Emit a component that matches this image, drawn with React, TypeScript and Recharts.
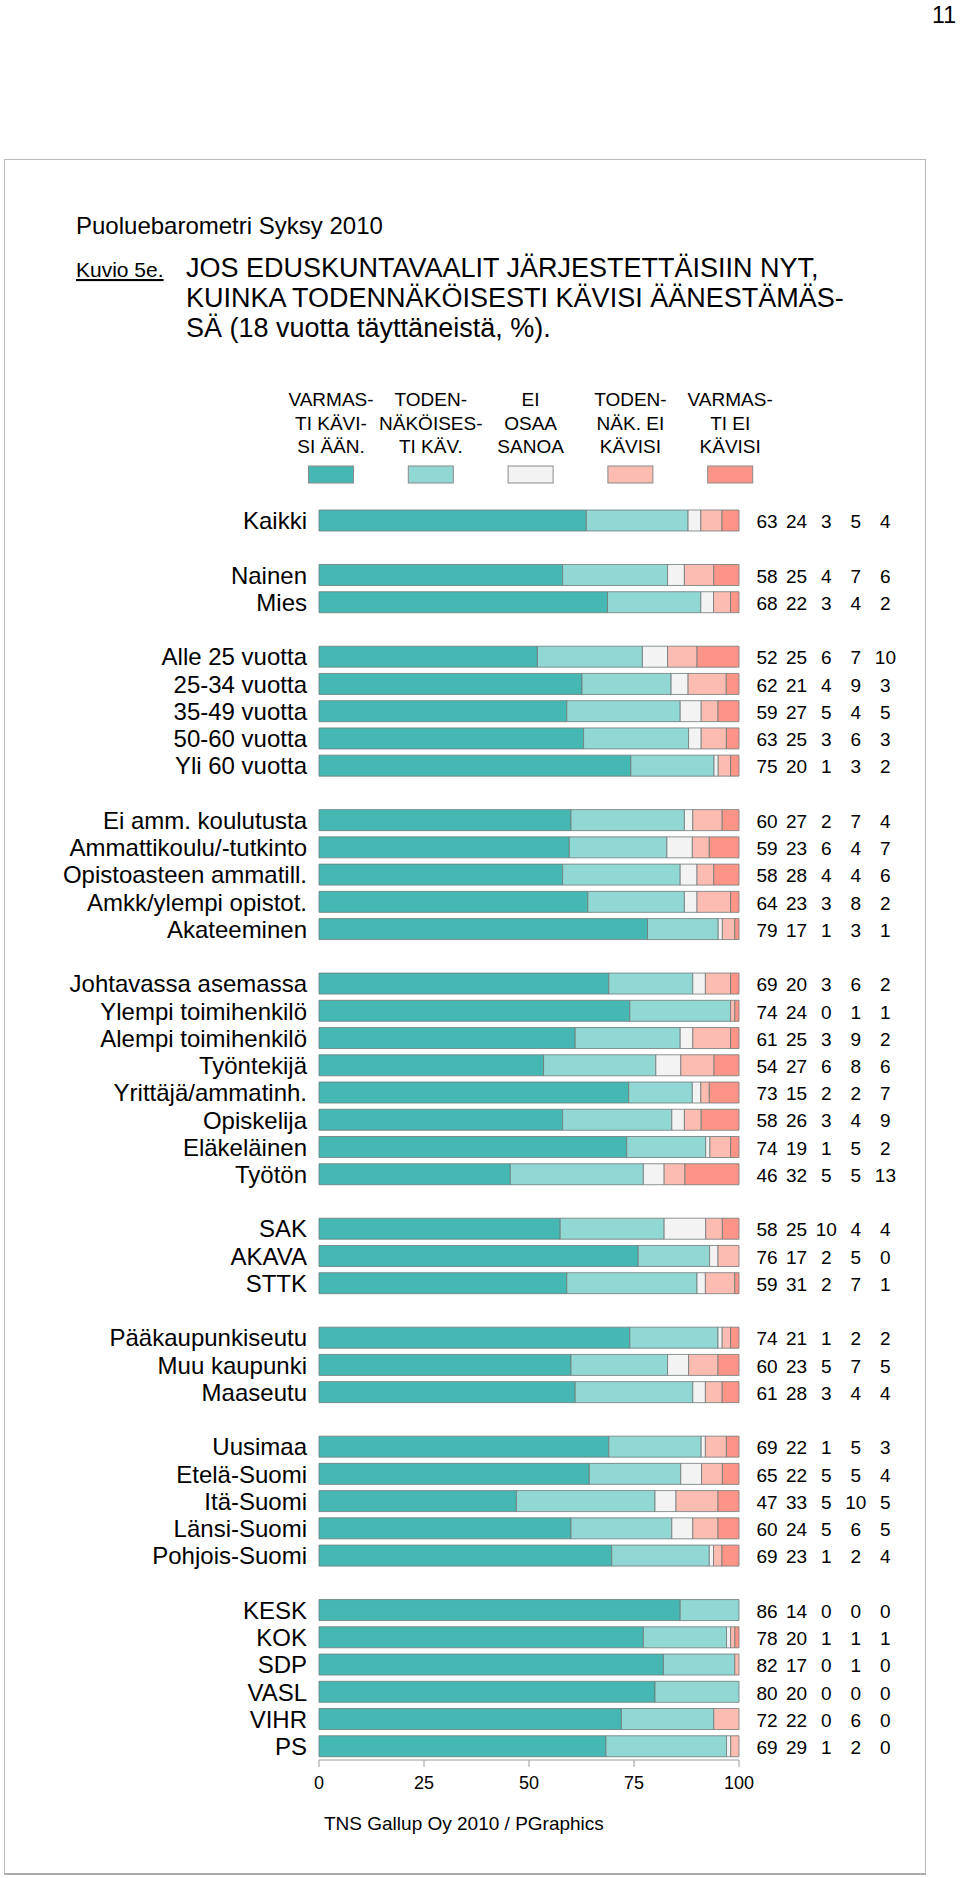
import React from 'react';
import { BarChart, Bar, XAxis, YAxis } from 'recharts';

// '' marks an empty spacer row between groups
const categories = [
  'Kaikki', '',
  'Nainen', 'Mies', '',
  'Alle 25 vuotta', '25-34 vuotta', '35-49 vuotta', '50-60 vuotta', 'Yli 60 vuotta', '',
  'Ei amm. koulutusta', 'Ammattikoulu/-tutkinto', 'Opistoasteen ammatill.', 'Amkk/ylempi opistot.', 'Akateeminen', '',
  'Johtavassa asemassa', 'Ylempi toimihenkilö', 'Alempi toimihenkilö', 'Työntekijä', 'Yrittäjä/ammatinh.', 'Opiskelija', 'Eläkeläinen', 'Työtön', '',
  'SAK', 'AKAVA', 'STTK', '',
  'Pääkaupunkiseutu', 'Muu kaupunki', 'Maaseutu', '',
  'Uusimaa', 'Etelä-Suomi', 'Itä-Suomi', 'Länsi-Suomi', 'Pohjois-Suomi', '',
  'KESK', 'KOK', 'SDP', 'VASL', 'VIHR', 'PS',
];

const certainlyVote = [
  63, null,
  58, 68, null,
  52, 62, 59, 63, 75, null,
  60, 59, 58, 64, 79, null,
  69, 74, 61, 54, 73, 58, 74, 46, null,
  58, 76, 59, null,
  74, 60, 61, null,
  69, 65, 47, 60, 69, null,
  86, 78, 82, 80, 72, 69,
];
const probablyVote = [
  24, null,
  25, 22, null,
  25, 21, 27, 25, 20, null,
  27, 23, 28, 23, 17, null,
  20, 24, 25, 27, 15, 26, 19, 32, null,
  25, 17, 31, null,
  21, 23, 28, null,
  22, 22, 33, 24, 23, null,
  14, 20, 17, 20, 22, 29,
];
const cannotSay = [
  3, null,
  4, 3, null,
  6, 4, 5, 3, 1, null,
  2, 6, 4, 3, 1, null,
  3, 0, 3, 6, 2, 3, 1, 5, null,
  10, 2, 2, null,
  1, 5, 3, null,
  1, 5, 5, 5, 1, null,
  0, 1, 0, 0, 0, 1,
];
const probablyNot = [
  5, null,
  7, 4, null,
  7, 9, 4, 6, 3, null,
  7, 4, 4, 8, 3, null,
  6, 1, 9, 8, 2, 4, 5, 5, null,
  4, 5, 7, null,
  2, 7, 4, null,
  5, 5, 10, 6, 2, null,
  0, 1, 1, 0, 6, 2,
];
const certainlyNot = [
  4, null,
  6, 2, null,
  10, 3, 5, 3, 2, null,
  4, 7, 6, 2, 1, null,
  2, 1, 2, 6, 7, 9, 2, 13, null,
  4, 0, 1, null,
  2, 5, 4, null,
  3, 4, 5, 5, 4, null,
  0, 1, 0, 0, 0, 0,
];

const seriesLabels = [
  ['VARMAS-', 'TI KÄVI-', 'SI ÄÄN.'],
  ['TODEN-', 'NÄKÖISES-', 'TI KÄV.'],
  ['EI', 'OSAA', 'SANOA'],
  ['TODEN-', 'NÄK. EI', 'KÄVISI'],
  ['VARMAS-', 'TI EI', 'KÄVISI'],
];
const seriesColors = ['#46b8b3', '#91d7d3', '#f3f3f3', '#fdbcb1', '#fc9588'];
const seriesKeys = ['s1', 's2', 's3', 's4', 's5'];
const seriesValues = [certainlyVote, probablyVote, cannotSay, probablyNot, certainlyNot];

const axisTicks = [0, 0.25, 0.5, 0.75, 1];

const titleLines = [
  'JOS EDUSKUNTAVAALIT JÄRJESTETTÄISIIN NYT,',
  'KUINKA TODENNÄKÖISESTI KÄVISI ÄÄNESTÄMÄS-',
  'SÄ (18 vuotta täyttäneistä, %).',
];

const data = categories.map((label, i) => {
  const row: any = { id: 'r' + i, label };
  seriesKeys.forEach((k, j) => { row[k] = seriesValues[j][i]; });
  return row;
});
const rowById: Record<string, any> = {};
data.forEach((r) => { rowById[r.id] = r; });

const font = '"Liberation Sans", Arial, Helvetica, sans-serif';

function LabelTick(props: any) {
  const { x, y, payload } = props;
  const row = rowById[payload.value];
  if (!row || !row.label) return <g />;
  return (
    <text x={x} y={y} dy="0.36em" textAnchor="end" fontSize={24} fill="#000" fontFamily={font}>
      {row.label}
    </text>
  );
}

function NumbersTick(props: any) {
  const { x, y, payload } = props;
  const row = rowById[payload.value];
  if (!row || !row.label) return <g />;
  return (
    <g>
      {seriesKeys.map((k, j) => (
        <text key={k} x={x + 28 + j * 29.6} y={y} dy="0.4em" textAnchor="middle" fontSize={19} fill="#000" fontFamily={font}>
          {row[k]}
        </text>
      ))}
    </g>
  );
}

export default function App() {
  return (
    <div style={{ position: 'absolute', left: 0, top: 0, width: 960, height: 1878, background: '#fff', fontFamily: font, overflow: 'hidden' }}>
      <div style={{ position: 'absolute', left: 4, top: 159, width: 920, height: 1713, border: '1px solid #b8b8b8', borderBottom: '2px solid #aaa' }} />

      <svg width={960} height={1878} style={{ position: 'absolute', left: 0, top: 0 }} fontFamily={font}>
        <text x={956} y={23} fontSize={23} fill="#000" textAnchor="end">11</text>
        <text x={76} y={234} fontSize={24} fill="#000">Puoluebarometri Syksy 2010</text>
        <text x={76} y={277} fontSize={21} fill="#000" style={{ textDecoration: 'underline' }}>Kuvio 5e.</text>
        {titleLines.map((t, i) => (
          <text key={i} x={186} y={277 + i * 30} fontSize={27} fill="#000">{t}</text>
        ))}
        {seriesLabels.map((lines, i) => {
          const cx = 331 + i * 99.8;
          return (
            <g key={i}>
              {lines.map((l, j) => (
                <text key={j} x={cx} y={406 + j * 23.5} fontSize={19} textAnchor="middle" fill="#000">{l}</text>
              ))}
              <rect x={cx - 22.5} y={466} width={45} height={17} fill={seriesColors[i]} stroke="#8a8a8a" strokeWidth={1} />
            </g>
          );
        })}
        <text x={324} y={1830} fontSize={19} fill="#000">TNS Gallup Oy 2010 / PGraphics</text>
      </svg>

      <div style={{ position: 'absolute', left: 0, top: 0 }}>
        <BarChart
          width={960}
          height={1800}
          data={data}
          layout="vertical"
          stackOffset="expand"
          barSize={21}
          margin={{ top: 507, right: 0, bottom: 10, left: 0 }}
        >
          <XAxis
            type="number"
            domain={[0, 1]}
            ticks={axisTicks}
            tickFormatter={(v: number) => String(Math.round(v * 100))}
            height={30}
            axisLine={{ stroke: '#9a9a9a' }}
            tickLine={{ stroke: '#9a9a9a' }}
            tickSize={7}
            tickMargin={9}
            tick={{ fontSize: 18, fill: '#000', fontFamily: font }}
          />
          <YAxis
            yAxisId="left"
            type="category"
            dataKey="id"
            width={319}
            axisLine={false}
            tickLine={false}
            tickSize={0}
            tickMargin={12}
            interval={0}
            tick={(p: any) => <LabelTick {...p} />}
          />
          <YAxis
            yAxisId="right"
            orientation="right"
            type="category"
            dataKey="id"
            width={221}
            axisLine={false}
            tickLine={false}
            tickSize={0}
            tickMargin={0}
            interval={0}
            tick={(p: any) => <NumbersTick {...p} />}
          />
          {seriesKeys.map((k, j) => (
            <Bar
              key={k}
              dataKey={k}
              yAxisId="left"
              stackId="a"
              fill={seriesColors[j]}
              stroke="#6e7a79"
              strokeWidth={0.8}
              isAnimationActive={false}
            />
          ))}
        </BarChart>
      </div>
    </div>
  );
}
